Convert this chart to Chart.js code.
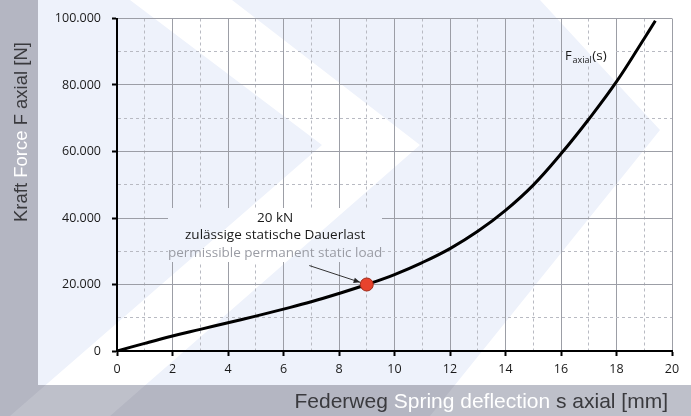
<!DOCTYPE html>
<html>
<head>
<meta charset="utf-8">
<script src="https://cdn.jsdelivr.net/npm/chart.js@4/dist/chart.umd.min.js"></script>
<style>
html,body{margin:0;padding:0;background:#b4b6c2;}
canvas{display:block;}
</style>
</head>
<body>
<canvas id="c" width="691" height="416"></canvas>
<script>
// ---- data ----
const deflection = [0, 1, 2, 3, 4, 5, 6, 7, 8, 9, 10, 11, 12, 13, 14, 15, 16, 17, 18, 19, 19.4];
const force = [0, 2300, 4500, 6500, 8500, 10500, 12600, 14800, 17300, 20000, 23000, 26600, 30800, 36000, 42300, 49900, 59300, 69700, 81000, 94000, 99300];
const permLoadX = [9];
const permLoadY = [20000];
const xTickLabels = ['0', '2', '4', '6', '8', '10', '12', '14', '16', '18', '20'];
const yTickLabels = ['0', '20.000', '40.000', '60.000', '80.000', '100.000'];
const annLines = ['20 kN', 'zulässige statische Dauerlast', 'permissible permanent static load'];
const annAnchor = {x: 5.7, y: 40000};
const arrowFrom = {x: 6.93, y: 25700};
const curveLabelAnchor = {x: 16.14, y: 87650};

const GRAY = '#b4b6c2';
const LIGHT = '#eef2fb';

function chevrons(ctx) {
  ctx.beginPath();
  ctx.moveTo(130, 0); ctx.lineTo(232, 0); ctx.lineTo(420, 145); ctx.lineTo(110, 416);
  ctx.lineTo(10, 416); ctx.lineTo(322, 145); ctx.closePath();
  ctx.moveTo(540, 0); ctx.lineTo(691, 0); ctx.lineTo(691, 416); ctx.lineTo(430, 416);
  ctx.lineTo(660, 130); ctx.closePath();
  ctx.fill();
}
function drawBackground(ctx, w, h, skipGray) {
  ctx.save();
  if (!skipGray) {
    ctx.fillStyle = GRAY;
    ctx.fillRect(0, 0, w, h);
    ctx.fillStyle = 'rgba(255,255,255,0.14)';
    chevrons(ctx);
  }
  ctx.fillStyle = LIGHT;
  ctx.fillRect(38, 0, w - 38, 385);
  ctx.beginPath(); ctx.rect(38, 0, w - 38, 385); ctx.clip();
  ctx.fillStyle = '#ffffff';
  chevrons(ctx);
  ctx.restore();
}

const bgPlugin = {
  id: 'bg',
  beforeDraw(chart) {
    drawBackground(chart.ctx, chart.width, chart.height, false);
  },
  beforeDatasetsDraw(chart) {
    const ctx = chart.ctx;
    const xs = chart.scales.x, ys = chart.scales.y;
    const ax = xs.getPixelForValue(annAnchor.x), ay = ys.getPixelForValue(annAnchor.y);
    const cx = xs.getPixelForValue(curveLabelAnchor.x), cy = ys.getPixelForValue(curveLabelAnchor.y);
    const rects = [[ax - 107, ay - 10, 214, 54], [cx - 2, cy - 15, 50, 21]];
    rects.forEach(r => {
      ctx.save();
      ctx.beginPath(); ctx.rect(Math.round(r[0]), Math.round(r[1]), r[2], r[3]); ctx.clip();
      drawBackground(ctx, chart.width, chart.height, true);
      ctx.restore();
    });
  },
  afterDatasetsDraw(chart) {
    const ctx = chart.ctx;
    const xs = chart.scales.x, ys = chart.scales.y;
    ctx.save();
    const ax = xs.getPixelForValue(annAnchor.x), ay = ys.getPixelForValue(annAnchor.y);
    ctx.textAlign = 'center';
    ctx.textBaseline = 'middle';
    ctx.font = '13.5px "Open Sans"';
    const colors = ['#1a1a1a', '#1a1a1a', '#9a9ca4'];
    annLines.forEach((t, i) => {
      ctx.fillStyle = colors[i];
      ctx.fillText(t, ax, ay + i * 17.5);
    });
    const px = xs.getPixelForValue(permLoadX[0]), py = ys.getPixelForValue(permLoadY[0]);
    const fx = xs.getPixelForValue(arrowFrom.x), fy = ys.getPixelForValue(arrowFrom.y);
    const ang = Math.atan2(py - fy, px - fx);
    const ex = px - Math.cos(ang) * 7, ey = py - Math.sin(ang) * 7;
    ctx.strokeStyle = '#333';
    ctx.lineWidth = 1;
    ctx.beginPath(); ctx.moveTo(fx, fy); ctx.lineTo(ex, ey); ctx.stroke();
    ctx.fillStyle = '#222';
    ctx.beginPath();
    ctx.moveTo(ex, ey);
    ctx.lineTo(ex - Math.cos(ang - 0.4) * 7, ey - Math.sin(ang - 0.4) * 7);
    ctx.lineTo(ex - Math.cos(ang + 0.4) * 7, ey - Math.sin(ang + 0.4) * 7);
    ctx.closePath(); ctx.fill();
    const cx = xs.getPixelForValue(curveLabelAnchor.x), cy = ys.getPixelForValue(curveLabelAnchor.y);
    ctx.textAlign = 'left';
    ctx.textBaseline = 'alphabetic';
    ctx.fillStyle = '#1a1a1a';
    ctx.font = '13px "Open Sans"';
    ctx.fillText('F', cx, cy);
    let w = ctx.measureText('F').width + 1;
    ctx.font = '9px "Open Sans"';
    ctx.fillText('axial', cx + w, cy + 3);
    w += ctx.measureText('axial').width + 0.5;
    ctx.font = '13.5px "Open Sans"';
    ctx.fillText('(s)', cx + w, cy);
    ctx.restore();
  },
  afterDraw(chart) {
    const ctx = chart.ctx;
    ctx.save();
    ctx.font = '18.5px "Liberation Sans", Arial, sans-serif';
    ctx.textBaseline = 'alphabetic';
    ctx.translate(27, 222);
    ctx.rotate(-Math.PI / 2);
    const parts = [['Kraft ', '#3a3a3e'], ['Force ', '#ffffff'], ['F axial [N]', '#3a3a3e']];
    let x = 0;
    parts.forEach(p => { ctx.fillStyle = p[1]; ctx.textAlign = 'left'; ctx.fillText(p[0], x, 0); x += ctx.measureText(p[0]).width; });
    ctx.restore();
    ctx.save();
    ctx.font = '21px "Liberation Sans", Arial, sans-serif';
    ctx.textBaseline = 'alphabetic';
    const xparts = [['Federweg ', '#3a3a3e'], ['Spring deflection ', '#ffffff'], ['s axial [mm]', '#3a3a3e']];
    let total = xparts.reduce((s, p) => s + ctx.measureText(p[0]).width, 0);
    let sx = 668 - total;
    xparts.forEach(p => { ctx.fillStyle = p[1]; ctx.fillText(p[0], sx, 408); sx += ctx.measureText(p[0]).width; });
    ctx.restore();
  }
};

const lineData = deflection.map((s, i) => ({x: s, y: force[i]}));
const pointData = permLoadX.map((s, i) => ({x: s, y: permLoadY[i]}));

const majorGrid = '#9c9ea6';
const minorGrid = '#b8bac2';

new Chart(document.getElementById('c'), {
  type: 'scatter',
  data: {
    datasets: [
      {
        type: 'scatter',
        data: pointData,
        pointRadius: 6.5,
        pointHoverRadius: 6.5,
        backgroundColor: '#e8432d',
        borderColor: '#a02a18',
        borderWidth: 1,
        order: 0
      },
      {
        type: 'line',
        data: lineData,
        borderColor: '#000000',
        borderWidth: 3,
        pointRadius: 0,
        tension: 0.4,
        fill: false,
        order: 1
      }
    ]
  },
  options: {
    responsive: false,
    animation: false,
    devicePixelRatio: 1,
    layout: {padding: {left: 0, right: 19, top: 17, bottom: 0}},
    plugins: {legend: {display: false}, tooltip: {enabled: false}},
    scales: {
      x: {
        type: 'linear',
        min: 0, max: 20,
        afterFit(s) { s.height = 65; },
        ticks: {
          stepSize: 1,
          autoSkip: false,
          maxRotation: 0,
          padding: 6,
          color: '#1a1a1a',
          font: {family: '"Open Sans"', size: 12.5},
          callback: v => (v % 2 === 0 ? xTickLabels[v / 2] : '')
        },
        grid: {
          color: c => (c.tick && c.tick.value % 2 === 0 ? majorGrid : minorGrid),
          lineWidth: 1,
          tickLength: 5,
          tickWidth: 2,
          tickColor: c => (c.tick && c.tick.value % 2 === 0 ? '#000' : 'rgba(0,0,0,0)')
        },
        border: {
          display: true, color: '#000', width: 2,
          dash: c => (c.tick && c.tick.value % 2 === 0 ? [] : [3, 3])
        }
      },
      y: {
        type: 'linear',
        min: 0, max: 100000,
        afterFit(s) { s.width = 117; },
        ticks: {
          stepSize: 10000,
          autoSkip: false,
          padding: 11,
          color: '#1a1a1a',
          font: {family: '"Open Sans"', size: 12.5},
          callback: v => (v % 20000 === 0 ? yTickLabels[v / 20000] : '')
        },
        grid: {
          color: c => (c.tick && c.tick.value % 20000 === 0 ? majorGrid : minorGrid),
          lineWidth: 1,
          tickLength: 5,
          tickWidth: 2,
          tickColor: c => (c.tick && c.tick.value % 20000 === 0 ? '#000' : 'rgba(0,0,0,0)')
        },
        border: {
          display: true, color: '#000', width: 2,
          dash: c => (c.tick && c.tick.value % 20000 === 0 ? [] : [3, 3])
        }
      }
    }
  },
  plugins: [bgPlugin]
});
</script>
</body>
</html>
